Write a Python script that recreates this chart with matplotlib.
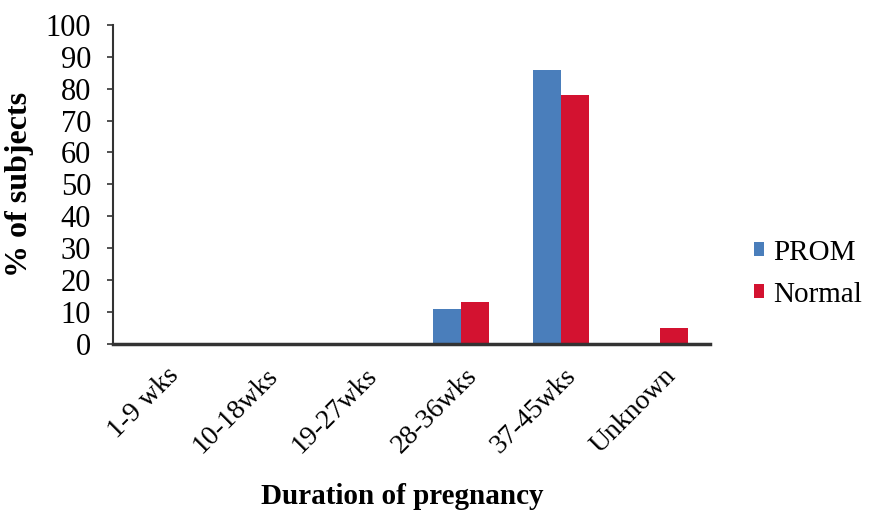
import matplotlib
matplotlib.use("Agg")
import matplotlib.pyplot as plt
import matplotlib.transforms as mtransforms
import numpy as np

categories = ["1-9 wks", "10-18wks", "19-27wks", "28-36wks", "37-45wks", "Unknown"]
prom = [0, 0, 0, 11, 86, 0]
normal = [0, 0, 0, 13, 78, 5]
series_names = ["PROM", "Normal"]
colors = ["#4A7EBB", "#D31230"]

plt.rcParams["font.family"] = ["Liberation Serif", "DejaVu Serif"]

fig = plt.figure(figsize=(8.71, 5.18), dpi=100)
ax = fig.add_axes([0.130, 0.336, 0.685, 0.616])

x = np.arange(len(categories))
w = 0.28
ax.bar(x - w / 2, prom, w, color=colors[0], label=series_names[0])
ax.bar(x + w / 2, normal, w, color=colors[1], label=series_names[1])

ax.set_xlim(-0.5, len(categories) - 0.5)
ax.set_ylim(0, 100)
ax.set_yticks(np.arange(0, 101, 10))
ax.tick_params(axis="y", labelsize=22, length=4, width=1.2, color="#333333", pad=12)
ax.set_xticks(x)
ax.set_xticklabels(categories, rotation=45, ha="right", rotation_mode="anchor", fontsize=20)
ax.tick_params(axis="x", length=0, pad=14)

# nudge the slanted category labels a little to the right
shift = mtransforms.ScaledTranslation(3 / 100, 0, fig.dpi_scale_trans)
for lbl in ax.get_xticklabels():
    lbl.set_transform(lbl.get_transform() + shift)

for side in ["top", "right"]:
    ax.spines[side].set_visible(False)
ax.spines["left"].set_color("#333333")
ax.spines["left"].set_linewidth(1.5)
ax.spines["bottom"].set_color("#333333")
ax.spines["bottom"].set_linewidth(2.5)

ax.set_ylabel("% of subjects", fontsize=23, fontweight="bold", labelpad=8)
ax.set_xlabel("Duration of pregnancy", fontsize=21, fontweight="bold", labelpad=18)
ax.xaxis.label.set_x(0.485)

ax.legend(loc="center left", bbox_to_anchor=(1.03, 0.22), frameon=False, fontsize=21,
          handlelength=0.35, handleheight=0.35, handletextpad=0.3, labelspacing=0.55)

fig.savefig("out.png", dpi=100, facecolor="white")
